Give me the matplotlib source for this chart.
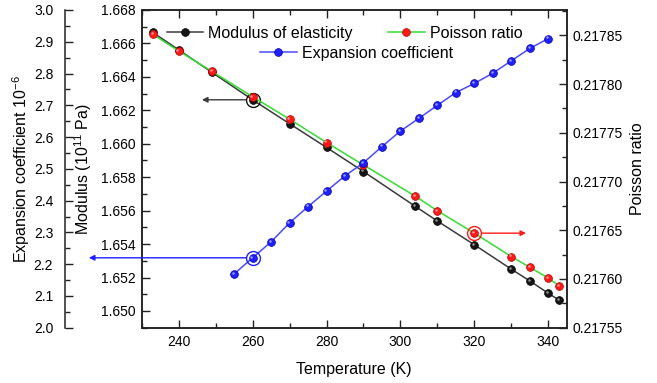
import matplotlib
matplotlib.use("Agg")
import matplotlib.pyplot as plt
from matplotlib.legend import Legend
from matplotlib.ticker import MultipleLocator, FormatStrFormatter
from matplotlib.transforms import offset_copy

plt.rcParams["font.family"] = ["Liberation Sans", "DejaVu Sans"]
plt.rcParams["mathtext.default"] = "regular"

# temperatura (K) das series de modulo e Poisson
temp_mech = [233, 240, 249, 260, 270, 280, 290, 304, 310, 320, 330, 335, 340, 343]
modulus = [1.66666, 1.66562, 1.66427, 1.66263, 1.66120, 1.65978, 1.65834,
           1.65626, 1.65538, 1.65396, 1.65250, 1.65180, 1.65106, 1.65064]
poisson = [0.217851, 0.217834, 0.217813, 0.217787, 0.217764, 0.217740, 0.217717,
           0.217685, 0.217670, 0.217647, 0.217623, 0.217612, 0.217601, 0.217593]

# coeficiente de expansao (10^-6)
temp_exp = [255, 260, 265, 270, 275, 280, 285, 290, 295, 300,
            305, 310, 315, 320, 325, 330, 335, 340]
expansion = [2.169, 2.220, 2.270, 2.330, 2.381, 2.430, 2.478, 2.519, 2.570,
             2.619, 2.659, 2.700, 2.740, 2.769, 2.801, 2.840, 2.879, 2.910]

# pontos destacados (circulo + seta para o eixo correspondente)
T_mod_mark, T_exp_mark, T_poi_mark = 260, 260, 320

BLACK, RED, BLUE = "#151515", "#ff1a1a", "#1f1fff"
LBLACK, LGREEN, LBLUE = "#3a3a3a", "#33dd33", "#4a4aff"

fig = plt.figure(figsize=(6.57, 3.83), dpi=100)
ax = fig.add_axes([0.2157, 0.1444, 0.6469, 0.8295])
ax2 = ax.twinx()
ax3 = ax.twinx()

ms = 5.6


def series(a, x, y, lc, fc, ec, label):
    ln, = a.plot(x, y, "-o", color=lc, lw=1.1, ms=ms, mfc=fc, mec=ec, mew=0.5,
                 label=label)
    # brilho pequeno nas bolinhas (efeito "esfera" do original)
    tr = offset_copy(a.transData, fig=fig, x=-1.2, y=1.2, units="dots")
    a.plot(x, y, "o", ms=1.8, color="white", alpha=0.55, mew=0, transform=tr)
    return ln


l1 = series(ax, temp_mech, modulus, LBLACK, BLACK, "#000000", "Modulus of elasticity")
l2 = series(ax2, temp_mech, poisson, LGREEN, RED, "#b00000", "Poisson ratio")
l3 = series(ax3, temp_exp, expansion, LBLUE, BLUE, "#0000a0", "Expansion coefficient")

arrow = dict(arrowstyle="-|>", lw=1.0, mutation_scale=8, shrinkA=0, shrinkB=0)

# circulos nos pontos destacados
i = temp_mech.index(T_mod_mark)
ax.plot(T_mod_mark, modulus[i], "o", ms=10, mfc="none", mec=BLACK, mew=1.0)
ax.annotate("", xy=(246.3, modulus[i]), xytext=(258.2, modulus[i]),
            arrowprops=dict(arrow, color=LBLACK))
j = temp_mech.index(T_poi_mark)
ax2.plot(T_poi_mark, poisson[j], "o", ms=10, mfc="none", mec=RED, mew=1.0)
ax2.annotate("", xy=(334.0, poisson[j]), xytext=(322.1, poisson[j]),
             arrowprops=dict(arrow, color=RED))
k = temp_exp.index(T_exp_mark)
ax3.plot(T_exp_mark, expansion[k], "o", ms=10, mfc="none", mec=BLUE, mew=1.0)
ax3.annotate("", xy=(215.7, expansion[k]), xytext=(258.2, expansion[k]),
             annotation_clip=False, arrowprops=dict(arrow, color=BLUE))

# eixos
ax.set_xlim(230, 345)
ax.set_ylim(1.649, 1.668)
ax2.set_ylim(0.21755, 0.217876)
ax3.set_ylim(2.0, 3.0)

ax.xaxis.set_major_locator(MultipleLocator(20))
ax.xaxis.set_minor_locator(MultipleLocator(10))
ax.yaxis.set_major_locator(MultipleLocator(0.002))
ax.yaxis.set_minor_locator(MultipleLocator(0.001))
ax.yaxis.set_major_formatter(FormatStrFormatter("%.3f"))
ax2.yaxis.set_major_locator(MultipleLocator(0.00005))
ax2.yaxis.set_minor_locator(MultipleLocator(0.000025))
ax2.yaxis.set_major_formatter(FormatStrFormatter("%.5f"))
ax3.yaxis.set_major_locator(MultipleLocator(0.1))
ax3.yaxis.set_minor_locator(MultipleLocator(0.05))
ax3.yaxis.set_major_formatter(FormatStrFormatter("%.1f"))

ax3.yaxis.set_ticks_position("left")
ax3.yaxis.set_label_position("left")
ax3.spines["left"].set_position(("axes", -0.1805))
ax3.spines["left"].set_visible(True)
for s in ("right", "top", "bottom"):
    ax3.spines[s].set_visible(False)

for a in (ax, ax2, ax3):
    for s in a.spines.values():
        s.set_linewidth(1.1)
        s.set_color("#222222")

ax.tick_params(axis="x", which="both", direction="in", top=True, labelsize=10, pad=5,
               color="#222222")
ax.tick_params(axis="y", which="both", direction="in", right=False, labelsize=10, pad=4.5,
               color="#222222")
ax2.tick_params(axis="y", which="both", direction="in", labelsize=10, pad=4.5, color="#222222")
ax3.tick_params(axis="y", which="both", direction="in", labelsize=10, pad=8.5, color="#222222")
for a in (ax, ax2, ax3):
    a.tick_params(which="major", length=6, width=1.0)
    a.tick_params(which="minor", length=3.5, width=1.0)

ax.set_xlabel("Temperature (K)", fontsize=11.5)
ax.xaxis.set_label_coords(0.5, -0.107)
ax.set_ylabel("Modulus (10$^{11}$ Pa)", fontsize=11.5)
ax.yaxis.set_label_coords(-0.112, 0.5)
ax2.set_ylabel("Poisson ratio", fontsize=11.5)
ax2.yaxis.set_label_coords(1.149, 0.5)
ax3.set_ylabel("Expansion coefficient 10$^{-6}$", fontsize=11.5)
ax3.yaxis.set_label_coords(-0.257, 0.5)


# legendas separadas, como no original
def put_legend(line, x_px, y_px):
    leg = Legend(ax3, [line], [line.get_label()], loc="center left", frameon=False,
                 bbox_to_anchor=(x_px / 657, 1 - y_px / 383),
                 bbox_transform=fig.transFigure, borderpad=0, borderaxespad=0,
                 handlelength=2.3, handletextpad=0.3, numpoints=1, fontsize=11.5)
    ax3.add_artist(leg)


put_legend(l1, 166.7, 33.3)
put_legend(l3, 260, 53.3)
put_legend(l2, 388, 33.3)

fig.savefig("out.png", dpi=100)
